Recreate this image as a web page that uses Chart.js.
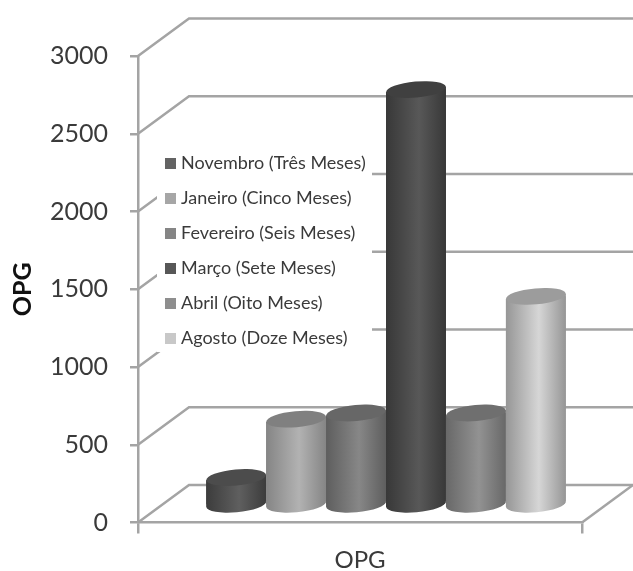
<!DOCTYPE html>
<html>
<head>
<meta charset="utf-8">
<style>
  html, body { margin: 0; padding: 0; background: #fff; }
  canvas { display: block; }
</style>
<script src="https://cdn.jsdelivr.net/npm/chart.js@4/dist/chart.umd.js"></script>
</head>
<body>
<canvas id="opgChart" width="633" height="571"></canvas>
<script>
const categories = ['OPG'];
const seriesNames = [
  'Novembro (Três Meses)',
  'Janeiro (Cinco Meses)',
  'Fevereiro (Seis Meses)',
  'Março (Sete Meses)',
  'Abril (Oito Meses)',
  'Agosto (Doze Meses)'
];
const seriesValues = [180, 555, 595, 2675, 595, 1345];
const yTicks = [0, 500, 1000, 1500, 2000, 2500, 3000];

// body gradient (edge, middle), cylinder lid, legend swatch
const edgeColors = ['#3c3c3c', '#858585', '#5e5e5e', '#383838', '#686868', '#969696'];
const midColors = ['#5f5f5f', '#b2b2b2', '#878787', '#585858', '#929292', '#d6d6d6'];
const lidColors = ['#4c4c4c', '#808080', '#676767', '#404040', '#6f6f6f', '#9c9c9c'];
const swatchColors = ['#636363', '#a6a6a6', '#858585', '#575757', '#8e8e8e', '#c8c8c8'];

const FONT = 'Lato, sans-serif';
const LINE = '#a4a4a4';
const TEXT = '#3a3a3a';

// 3D box offset between the front edge and the back wall
const WALL_DX = 51;
const WALL_DY = 37.5;
// the bars stand half way along the floor
const BAR_DX = 26;
const BAR_DY = 17;

function drawWalls(chart) {
  const { ctx, scales: { x, y } } = chart;
  ctx.save();
  ctx.strokeStyle = LINE;
  ctx.lineWidth = 2.5;
  yTicks.forEach(v => {
    const py = y.getPixelForValue(v);
    ctx.beginPath();
    ctx.moveTo(x.left, py);
    ctx.lineTo(x.left + WALL_DX, py - WALL_DY);
    ctx.lineTo(x.right + WALL_DX, py - WALL_DY);
    ctx.stroke();
  });
  // right side of the floor
  const floor = y.getPixelForValue(0);
  ctx.beginPath();
  ctx.moveTo(x.right, floor);
  ctx.lineTo(x.right + WALL_DX, floor - WALL_DY);
  ctx.stroke();
  ctx.restore();
}

function drawLegend(chart) {
  const { ctx } = chart;
  ctx.save();
  ctx.fillStyle = '#fff';
  ctx.fillRect(157, 145, 215, 207);
  ctx.font = '18px ' + FONT;
  ctx.textBaseline = 'middle';
  seriesNames.forEach((name, i) => {
    const cy = 163 + i * 35;
    ctx.fillStyle = swatchColors[i];
    ctx.fillRect(165, cy - 5, 11, 11);
    ctx.fillStyle = TEXT;
    ctx.fillText(name, 181, cy);
  });
  ctx.restore();
}

function drawCylinder(chart, i) {
  const { ctx } = chart;
  const meta = chart.getDatasetMeta(i);
  const bar = meta.data[0];
  const rx = bar.width / 2;
  const ry = 8;
  const tilt = -0.09;
  const slope = rx * Math.sin(-tilt);
  const left = bar.x - rx;
  const right = bar.x + rx;

  const grad = ctx.createLinearGradient(left, 0, right, 0);
  grad.addColorStop(0, edgeColors[i]);
  grad.addColorStop(0.55, midColors[i]);
  grad.addColorStop(1, edgeColors[i]);

  // body outline follows the tilt of the ellipses at both ends
  const body = new Path2D();
  body.moveTo(left, bar.y + slope);
  body.lineTo(right, bar.y - slope);
  body.lineTo(right, bar.base - slope);
  body.lineTo(left, bar.base + slope);
  body.closePath();
  body.ellipse(bar.x, bar.base, rx, ry, tilt, 0, Math.PI * 2);
  ctx.fillStyle = grad;
  ctx.fill(body);

  ctx.save();
  ctx.clip(body);
  bar.options = { ...bar.options, backgroundColor: grad };
  meta.controller.draw();
  ctx.restore();

  ctx.fillStyle = lidColors[i];
  ctx.beginPath();
  ctx.ellipse(bar.x, bar.y, rx, ry, tilt, 0, Math.PI * 2);
  ctx.fill();
}

const cylinderPlugin = {
  id: 'cylinders',
  beforeDatasetsDraw(chart) {
    drawWalls(chart);
    drawLegend(chart);
    const { ctx } = chart;
    ctx.save();
    ctx.translate(BAR_DX, -BAR_DY);
    // left to right, each cylinder overlaps the one before it
    seriesValues.forEach((v, i) => drawCylinder(chart, i));
    ctx.restore();
    return false;
  }
};

new Chart(document.getElementById('opgChart'), {
  type: 'bar',
  data: {
    labels: categories,
    datasets: seriesNames.map((name, i) => ({
      label: name,
      data: [seriesValues[i]],
      backgroundColor: midColors[i],
      borderWidth: 0,
      categoryPercentage: 0.81,
      barPercentage: 1
    }))
  },
  options: {
    responsive: false,
    animation: false,
    layout: { padding: { left: 0, right: 51, top: 56, bottom: 0 } },
    plugins: {
      legend: { display: false },
      tooltip: { enabled: false }
    },
    scales: {
      x: {
        afterFit: scale => { scale.height = 48.5; },
        border: { color: LINE, width: 2.5 },
        grid: { drawOnChartArea: false, color: LINE, lineWidth: 2.5, tickLength: 11 },
        ticks: { color: TEXT, font: { family: FONT, size: 24 }, padding: 12, maxRotation: 0 }
      },
      y: {
        min: 0,
        max: 3000,
        afterFit: scale => { scale.width = 138; },
        afterBuildTicks: scale => { scale.ticks = yTicks.map(value => ({ value })); },
        border: { color: LINE, width: 2.5 },
        grid: { drawOnChartArea: false, color: LINE, lineWidth: 2.5, tickLength: 8 },
        ticks: {
          color: TEXT,
          font: { family: FONT, size: 25 },
          padding: 22,
          callback: value => String(value)
        },
        title: {
          display: true,
          text: 'OPG',
          color: '#111',
          font: { family: FONT, size: 25, weight: 'bold' },
          padding: { top: 8, bottom: 0 }
        }
      }
    }
  },
  plugins: [cylinderPlugin]
});
</script>
</body>
</html>
